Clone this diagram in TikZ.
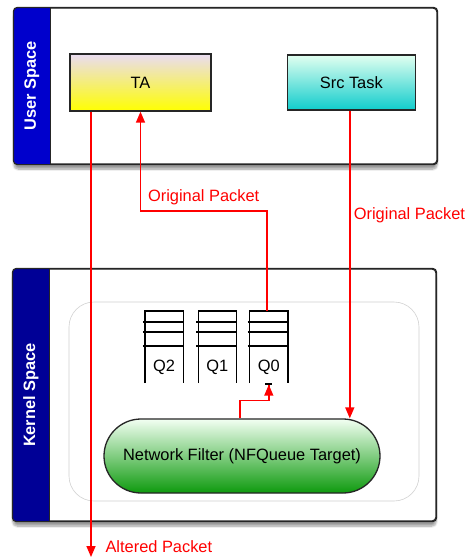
\documentclass[tikz,border=0pt]{standalone}
\usepackage{fontspec}
\setmainfont{Liberation Sans}
\usetikzlibrary{arrows.meta,positioning,shapes.misc,shadows.blur}
\definecolor{userblue}{HTML}{0000CC}
\definecolor{kernelblue}{HTML}{000096}
\definecolor{pktred}{HTML}{FF0000}
\definecolor{tatop}{HTML}{EADCF2}
\definecolor{tabot}{HTML}{FFFF00}
\definecolor{srctop}{HTML}{E2FFF0}
\definecolor{srcbot}{HTML}{10CCCC}
\definecolor{nftop}{HTML}{F2FFF2}
\definecolor{nfbot}{HTML}{0E9A0E}

\begin{document}
\begin{tikzpicture}[
		x=1pt, y=1pt,
		font=\fontsize{16.4}{19}\selectfont,
		every node/.style={align=center},
		spacebox/.style={rectangle, rounded corners=4pt, draw=black!85,
				line width=1.2pt, fill=white, inner sep=0pt,
				blur shadow={shadow xshift=0pt, shadow yshift=-5pt,
						shadow blur steps=8, shadow opacity=40}},
		barlabel/.style={rotate=90, text=white,
				font=\fontsize{16.4}{19}\selectfont\bfseries},
		task/.style={rectangle, draw=black!85, line width=1.3pt, inner sep=0pt},
		poolbox/.style={rectangle, rounded corners=25pt, draw=black!18,
				line width=0.6pt, inner sep=0pt},
		qbox/.style={rectangle, minimum width=38pt, minimum height=72pt,
				inner sep=0pt},
		qline/.style={line width=1.4pt, black},
		filter/.style={rounded rectangle, draw=black!85, line width=1.3pt,
				minimum width=276pt, minimum height=74pt, inner sep=0pt,
				top color=nftop, bottom color=nfbot},
		arr/.style={-{Triangle[length=11pt,width=9pt]}, line width=1.5pt, pktred},
		pkt/.style={text=pktred},
	]
	\useasboundingbox (0,0) rectangle (465,-558);

	% User Space
	\node[spacebox, minimum width=423pt, minimum height=156pt] (user) at (225.5,-86) {};
	\begin{scope}
		\clip[rounded corners=4pt] (user.south west) rectangle (user.north east);
		\fill[userblue] (user.south west) rectangle ([xshift=37pt]user.north west);
	\end{scope}
	\draw[line width=1.2pt, black!85] ([xshift=37pt]user.north west) -- ([xshift=37pt]user.south west);
	\draw[rounded corners=4pt, line width=1.2pt, black!85] (user.south west) rectangle (user.north east);
	\node[barlabel] (userlbl) at ([xshift=18.5pt]user.west) {User Space};

	\node[task, minimum width=141pt, minimum height=57pt,
		top color=tatop, bottom color=tabot] (ta) at (140.5,-82.5) {TA};
	\node[task, minimum width=128pt, minimum height=55pt,
		top color=srctop, bottom color=srcbot, right=75pt of ta] (src) {Src Task};

	% Kernel Space
	\node[spacebox, minimum width=423pt, minimum height=252pt] (kernel) at (224.5,-395) {};
	\begin{scope}
		\clip[rounded corners=4pt] (kernel.south west) rectangle (kernel.north east);
		\fill[kernelblue] (kernel.south west) rectangle ([xshift=37pt]kernel.north west);
	\end{scope}
	\draw[line width=1.2pt, black!85] ([xshift=37pt]kernel.north west) -- ([xshift=37pt]kernel.south west);
	\draw[rounded corners=4pt, line width=1.2pt, black!85] (kernel.south west) rectangle (kernel.north east);
	\node[barlabel] (kernellbl) at ([xshift=18.5pt]kernel.west) {Kernel Space};

	\node[poolbox, minimum width=350pt, minimum height=199pt] (pool) at (244,-401.5) {};

	% Queues
	\node[qbox] (q2) at (164,-347) {};
	\node[qbox, right=15pt of q2] (q1) {};
	\node[qbox, right=13pt of q1] (q0) {};
	\foreach \q/\t in {q2/Q2,q1/Q1,q0/Q0} {
			\draw[qline] (\q.south west) |- (\q.north east) -- (\q.south east);
			\foreach \d in {11,21,35}
			\draw[qline] ([shift={(-2pt,-\d pt)}]\q.north west) -- ([yshift=-\d pt]\q.north east);
			\node (\q-lbl) at ([yshift=16pt]\q.south) {\t};
		}

	\node[filter] (nf) at (242,-456) {Network Filter (NFQueue Target)};

	% Pakete
	\coordinate (altend) at (91,-557);
	\draw[arr] (ta.south west -| altend) -- (altend);
	\node[pkt, anchor=west] (altlbl) at (102,-547) {Altered Packet};

	\draw[arr] ([xshift=-2pt]q0.north) -- ++(0,100) -|
	node[pos=0.25, above=2pt, pkt] (origlbl) {Original Packet} (ta.south);
	\draw[arr] ([xshift=-1.5pt]src.south) --
	node[pos=0.34, right=0pt, pkt] (srclbl) {Original Packet} ([xshift=-1.5pt]src.south |- nf.north);
	\draw[arr, -{Triangle[length=11pt,width=9pt] Bar[color=black,width=7pt,line width=1.5pt]}]
	([xshift=-2pt]nf.north) -- ++(0,18) -| (q0.south);

\end{tikzpicture}
\end{document}
